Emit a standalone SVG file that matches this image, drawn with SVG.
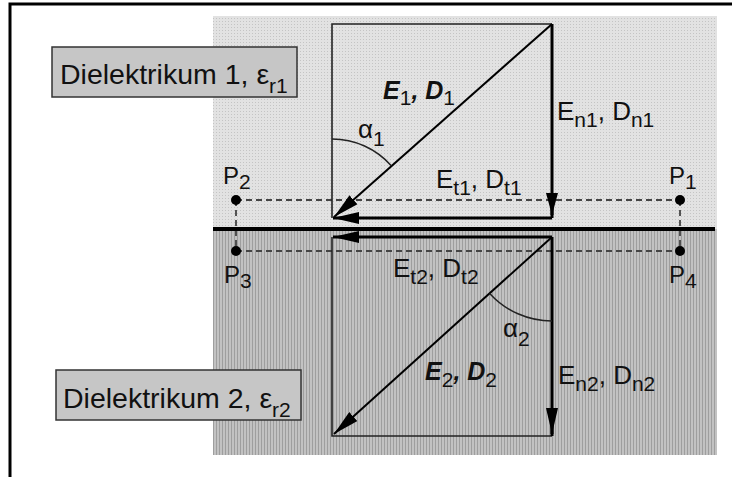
<svg xmlns="http://www.w3.org/2000/svg" width="732" height="477" viewBox="0 0 732 477">
<defs>
<pattern id="dots" width="3" height="3" patternUnits="userSpaceOnUse">
<rect width="3" height="3" fill="#e2e2e2"/>
<rect width="1" height="1" fill="#c4c4c4"/>
</pattern>
<pattern id="stripes" width="3" height="3" patternUnits="userSpaceOnUse">
<rect width="3" height="3" fill="#c2c2c2"/>
<rect width="1" height="3" fill="#9e9e9e"/>
</pattern>
<marker id="ah" viewBox="0 0 26 12" refX="26" refY="6" markerWidth="26" markerHeight="12" markerUnits="userSpaceOnUse" orient="auto">
<path d="M0,0 L26,6 L0,12 z" fill="#000"/>
</marker>
<marker id="ahs" viewBox="0 0 22 12" refX="22" refY="6" markerWidth="22" markerHeight="12" markerUnits="userSpaceOnUse" orient="auto">
<path d="M0,0 L22,6 L0,12 z" fill="#000"/>
</marker>
</defs>
<style>
text{font-family:"Liberation Sans",Arial,sans-serif;fill:#111}
.lbl{font-size:26px}
.plbl{font-size:24px}
.big{font-size:28.5px}
.sub{font-size:21px}
.bsub{font-size:21px}
.bi{font-weight:bold;font-style:italic;font-size:25px}
.nb{font-weight:normal;font-style:normal}
.thin{stroke:#222;stroke-width:1.6;fill:none}
.vec{stroke:#000;stroke-width:3;fill:none}
.diag{stroke:#000;stroke-width:2;fill:none}
.dash{stroke:#444;stroke-width:1.8;stroke-dasharray:6 4;fill:none}
.box{fill:#c6c6c6;stroke:#333;stroke-width:1.5}
.arc{stroke:#222;stroke-width:1.5;fill:none}
</style>
<rect width="732" height="477" fill="#fff"/>
<rect x="10" y="4" width="760" height="520" fill="none" stroke="#000" stroke-width="3"/>
<rect x="213" y="16" width="504" height="213" fill="url(#dots)"/>
<rect x="213" y="229" width="504" height="226" fill="url(#stripes)"/>

<g id="connectors">
<path class="dash" d="M236,200 H680 M236,251 H680 M236,200 V251 M680,200 V251"/>
<line x1="213" y1="229" x2="715" y2="229" stroke="#000" stroke-width="4"/>
<path class="thin" d="M332,218 V24 H552"/>
<path class="thin" d="M332,237 V436 H552"/>
<path class="vec" d="M552,24 V218"/>
<line class="vec" x1="552" y1="200" x2="552" y2="215" marker-end="url(#ahs)"/>
<line class="vec" x1="552" y1="218" x2="333" y2="218" marker-end="url(#ah)"/>
<line class="diag" x1="552" y1="24" x2="334" y2="217" marker-end="url(#ah)"/>
<line class="vec" x1="552" y1="237" x2="333" y2="237" marker-end="url(#ah)"/>
<path class="vec" d="M552,237 V436"/>
<line class="vec" x1="552" y1="410" x2="552" y2="434" marker-end="url(#ah)"/>
<line class="diag" x1="552" y1="237" x2="334" y2="434" marker-end="url(#ah)"/>
<path class="arc" d="M332,139 A79,79 0 0 1 391.3,165.8"/>
<path class="arc" d="M552,321 A84,84 0 0 1 489.7,293.4"/>
</g>

<g id="dielektrikum1">
<rect class="box" x="52" y="47" width="245" height="50"/>
<text class="big" x="60" y="84">Dielektrikum 1, ε<tspan class="bsub" dy="9">r1</tspan></text>
</g>
<g id="dielektrikum2">
<rect class="box" x="56" y="370" width="245" height="50"/>
<text class="big" x="63" y="408">Dielektrikum 2, ε<tspan class="bsub" dy="9">r2</tspan></text>
</g>

<g id="P1"><circle cx="680" cy="200" r="5" fill="#000"/><text class="plbl" x="669" y="184">P<tspan class="sub" dy="5">1</tspan></text></g>
<g id="P2"><circle cx="236" cy="200" r="5" fill="#000"/><text class="plbl" x="223" y="184">P<tspan class="sub" dy="5">2</tspan></text></g>
<g id="P3"><circle cx="236" cy="251" r="5" fill="#000"/><text class="plbl" x="224" y="283">P<tspan class="sub" dy="5">3</tspan></text></g>
<g id="P4"><circle cx="680" cy="251" r="5" fill="#000"/><text class="plbl" x="669" y="283">P<tspan class="sub" dy="5">4</tspan></text></g>

<g id="labels1">
<text class="bi" x="383" y="99">E<tspan class="sub nb" dy="6">1</tspan><tspan dy="-6">, D</tspan><tspan class="sub nb" dy="6">1</tspan></text>
<text class="lbl" x="358" y="138">α<tspan class="sub" dy="8">1</tspan></text>
<text class="lbl" x="557" y="120">E<tspan class="sub" dy="7">n1</tspan><tspan dy="-7">, D</tspan><tspan class="sub" dy="7">n1</tspan></text>
<text class="lbl" x="436" y="188">E<tspan class="sub" dy="7">t1</tspan><tspan dy="-7">, D</tspan><tspan class="sub" dy="7">t1</tspan></text>
</g>
<g id="labels2">
<text class="lbl" x="393" y="277">E<tspan class="sub" dy="7">t2</tspan><tspan dy="-7">, D</tspan><tspan class="sub" dy="7">t2</tspan></text>
<text class="lbl" x="503" y="337">α<tspan class="sub" dy="9">2</tspan></text>
<text class="bi" x="425" y="380">E<tspan class="sub nb" dy="7">2</tspan><tspan dy="-7">, D</tspan><tspan class="sub nb" dy="7">2</tspan></text>
<text class="lbl" x="558" y="384">E<tspan class="sub" dy="7">n2</tspan><tspan dy="-7">, D</tspan><tspan class="sub" dy="7">n2</tspan></text>
</g>
</svg>
